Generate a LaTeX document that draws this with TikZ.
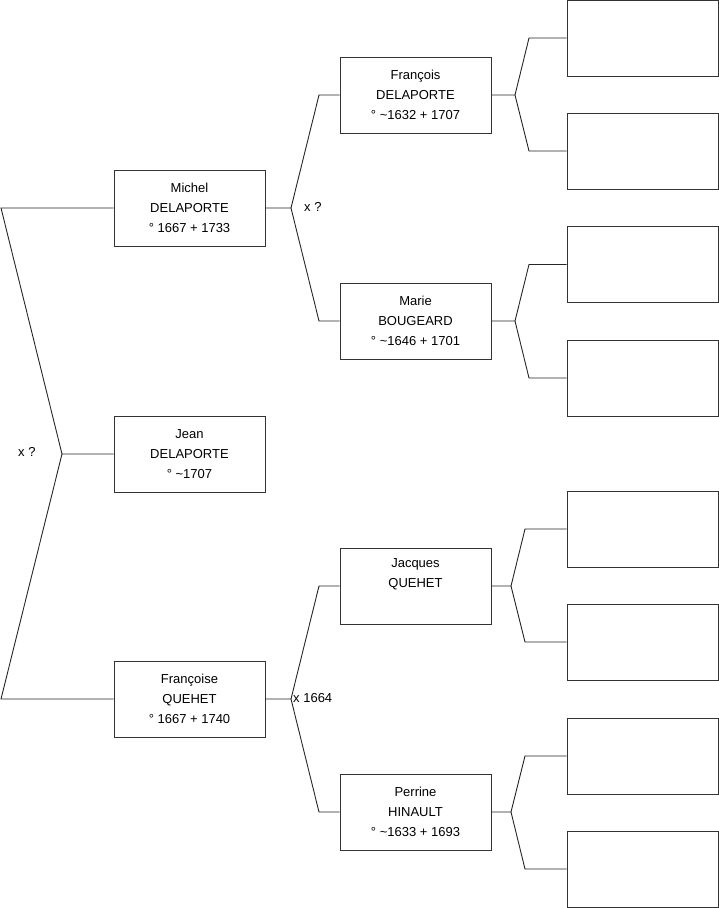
\documentclass[tikz,border=0pt]{standalone}
\usepackage{fontspec}
\setmainfont{Liberation Sans}
\begin{document}
\begin{tikzpicture}[x=1pt,y=-1pt,
  person/.style={draw=black!80, line width=1pt, rectangle, minimum width=151pt, minimum height=76pt,
    inner sep=0pt, align=center, font=\fontsize{13}{20}\selectfont},
  link/.style={draw=black!85, line width=0.9pt},
  lbl/.style={font=\fontsize{13}{15}\selectfont, inner sep=0pt}]
\useasboundingbox (0,0) rectangle (719,908);
% generation 1
\node[person] (michel) at (189.5,208) {Michel\\DELAPORTE\\° 1667 + 1733};
\node[person] (jean) at (189.5,454) {Jean\\DELAPORTE\\° \textasciitilde1707};
\node[person] (francoise) at (189.5,699) {Françoise\\QUEHET\\° 1667 + 1740};
% generation 2
\node[person] (francois) at (415.5,95) {François\\DELAPORTE\\° \textasciitilde1632 + 1707};
\node[person] (marie) at (415.5,321) {Marie\\BOUGEARD\\° \textasciitilde1646 + 1701};
\node[person] (jacques) at (415.5,586) {Jacques\\QUEHET\\\strut};
\node[person] (perrine) at (415.5,812) {Perrine\\HINAULT\\° \textasciitilde1633 + 1693};
% generation 3
\node[person] (r1) at (642.5,38) {};
\node[person] (r2) at (642.5,151) {};
\node[person] (r3) at (642.5,264.5) {};
\node[person] (r4) at (642.5,378) {};
\node[person] (r5) at (642.5,529) {};
\node[person] (r6) at (642.5,642) {};
\node[person] (r7) at (642.5,756) {};
\node[person] (r8) at (642.5,869) {};
% left fork
\coordinate (a1) at (1,208);
\coordinate (a2) at (1,699);
\coordinate (fj) at (62,454);
\draw[link] (michel.west) -- (a1) -- (fj) -- (jean.west);
\draw[link] (fj) -- (a2) -- (francoise.west);
\node[lbl, anchor=west] (xa) at (18,452) {x ?};
% Michel fork
\coordinate (fm) at (291,208);
\coordinate (fm1) at (319,95);
\coordinate (fm2) at (319,321);
\draw[link] (michel.east) -- (fm) -- (fm1) -- (francois.west);
\draw[link] (fm) -- (fm2) -- (marie.west);
\node[lbl, anchor=west] (xb) at (304,207) {x ?};
% Francoise fork
\coordinate (ff) at (291,699);
\coordinate (ff1) at (319,586);
\coordinate (ff2) at (319,812);
\draw[link] (francoise.east) -- (ff) -- (ff1) -- (jacques.west);
\draw[link] (ff) -- (ff2) -- (perrine.west);
\node[lbl, anchor=west] (xc) at (293,698) {x 1664};
% Francois fork
\coordinate (g1) at (515,95);
\coordinate (g1a) at (529,38);
\coordinate (g1b) at (529,151);
\draw[link] (francois.east) -- (g1) -- (g1a) -- (r1.west);
\draw[link] (g1) -- (g1b) -- (r2.west);
% Marie fork
\coordinate (g2) at (515,321);
\coordinate (g2a) at (529,264.5);
\coordinate (g2b) at (529,378);
\draw[link] (marie.east) -- (g2) -- (g2a) -- (r3.west);
\draw[link] (g2) -- (g2b) -- (r4.west);
% Jacques fork
\coordinate (g3) at (511,586);
\coordinate (g3a) at (525,529);
\coordinate (g3b) at (525,642);
\draw[link] (jacques.east) -- (g3) -- (g3a) -- (r5.west);
\draw[link] (g3) -- (g3b) -- (r6.west);
% Perrine fork
\coordinate (g4) at (511,812);
\coordinate (g4a) at (525,756);
\coordinate (g4b) at (525,869);
\draw[link] (perrine.east) -- (g4) -- (g4a) -- (r7.west);
\draw[link] (g4) -- (g4b) -- (r8.west);
\end{tikzpicture}
\end{document}
